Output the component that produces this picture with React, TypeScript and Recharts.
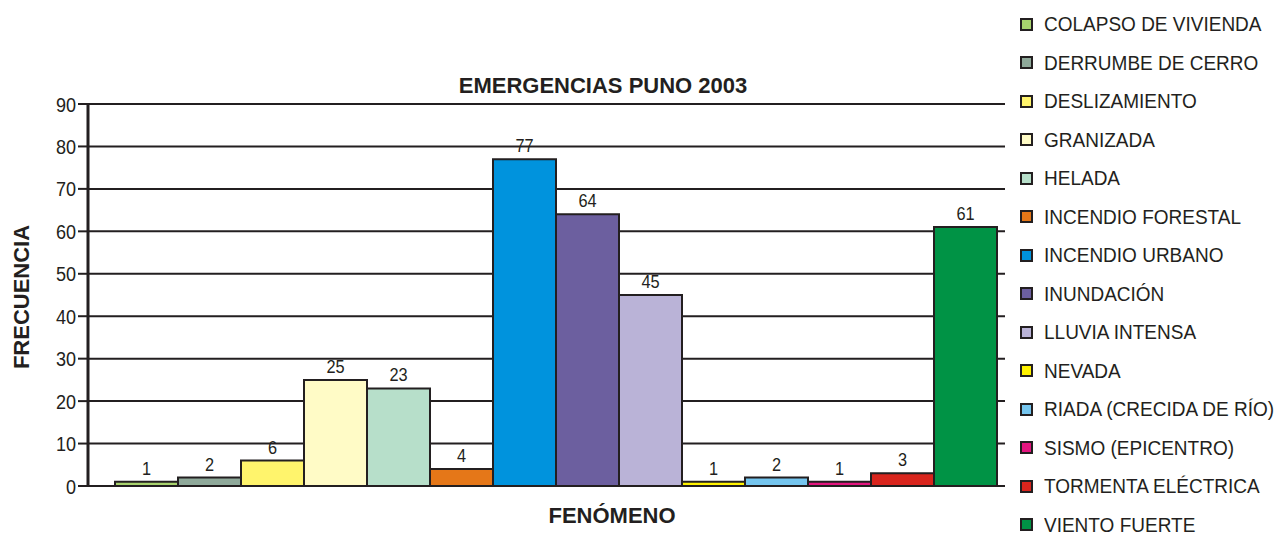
import React from "react";
import { BarChart, Bar, XAxis, YAxis, CartesianGrid, LabelList } from "recharts";

const fenomenos = [
  "COLAPSO DE VIVIENDA",
  "DERRUMBE DE CERRO",
  "DESLIZAMIENTO",
  "GRANIZADA",
  "HELADA",
  "INCENDIO FORESTAL",
  "INCENDIO URBANO",
  "INUNDACIÓN",
  "LLUVIA INTENSA",
  "NEVADA",
  "RIADA (CRECIDA DE RÍO)",
  "SISMO (EPICENTRO)",
  "TORMENTA ELÉCTRICA",
  "VIENTO FUERTE",
];
const frecuencias = [1, 2, 6, 25, 23, 4, 77, 64, 45, 1, 2, 1, 3, 61];
const colores = [
  "#a8d36e", "#8fa99a", "#fff46c", "#fffbc6", "#b7dfca", "#e57718", "#0093dd",
  "#6c5f9f", "#bab3d7", "#fff200", "#75c5ee", "#e3157f", "#d9251d", "#009345",
];
const yTicks = [0, 10, 20, 30, 40, 50, 60, 70, 80, 90];

const FONT = '"Liberation Sans", Arial, sans-serif';
const INK = "#231f20";

// one category, one series per phenomenon
const row: Record<string, number | string> = { name: "" };
fenomenos.forEach((f, i) => {
  row["s" + i] = frecuencias[i];
});
const chartData = [row];

// condensed-looking tick text
const YTick = (props: any) => {
  const { x, y, payload } = props;
  return (
    <text transform={`translate(${x},${y}) scale(0.86,1)`} textAnchor="end" dy="0.36em" fill={INK} fontSize={21} fontFamily={FONT}>
      {payload.value}
    </text>
  );
};

const BarLabel = (props: any) => {
  const { x, y, width, value } = props;
  const cx = x + width / 2;
  return (
    <text transform={`translate(${cx},${y - 7}) scale(0.86,1)`} textAnchor="middle" fill={INK} fontSize={19} fontFamily={FONT}>
      {value}
    </text>
  );
};

export default function App() {
  return (
    <div style={{ position: "absolute", left: 0, top: 0, width: 1282, height: 538, background: "#fff", fontFamily: FONT }}>
      <BarChart
        width={1282}
        height={538}
        data={chartData}
        margin={{ top: 104, right: 277, left: 28, bottom: 52 }}
        barCategoryGap={10}
        barGap={0}
      >
        <CartesianGrid vertical={false} stroke={INK} strokeWidth={2} />
        <XAxis dataKey="name" height={0} tick={false} tickLine={false} padding={{ left: 17, right: 0 }} axisLine={{ stroke: INK, strokeWidth: 2 }} />
        <YAxis
          width={60}
          domain={[0, 90]}
          ticks={yTicks}
          interval={0}
          tickSize={10}
          axisLine={{ stroke: INK, strokeWidth: 3 }}
          tickLine={{ stroke: INK, strokeWidth: 2 }}
          tick={<YTick />}
        />
        <YAxis yAxisId="r" orientation="right" width={0} domain={[0, 90]} tick={false} tickLine={false} axisLine={{ stroke: INK, strokeWidth: 2 }} />
        {fenomenos.map((f, i) => (
          <Bar key={f} dataKey={"s" + i} name={f} fill={colores[i]} stroke={INK} strokeWidth={2} isAnimationActive={false}>
            <LabelList dataKey={"s" + i} content={<BarLabel />} />
          </Bar>
        ))}
      </BarChart>

      <div style={{ position: "absolute", left: 0, width: 1206, top: 73, textAlign: "center", fontWeight: "bold", fontSize: 22, color: INK }}>
        EMERGENCIAS PUNO 2003
      </div>
      <div style={{ position: "absolute", left: 0, width: 1224, top: 503, textAlign: "center", fontWeight: "bold", fontSize: 22, color: INK }}>
        FENÓMENO
      </div>
      <div
        style={{
          position: "absolute",
          left: 22,
          top: 297,
          transform: "translate(-50%, -50%) rotate(-90deg)",
          fontWeight: "bold",
          fontSize: 22,
          color: INK,
          whiteSpace: "nowrap",
        }}
      >
        FRECUENCIA
      </div>

      {fenomenos.map((f, i) => (
        <div key={f} style={{ position: "absolute", left: 1020, top: 24 + i * 38.5 - 11, height: 22, display: "flex", alignItems: "center", whiteSpace: "nowrap", lineHeight: "22px" }}>
          <span style={{ width: 9, height: 9, background: colores[i], border: `2px solid ${INK}`, display: "inline-block", marginRight: 11 }} />
          <span style={{ fontSize: 20, color: INK, display: "inline-block", transform: "scaleX(0.95)", transformOrigin: "left center" }}>{f}</span>
        </div>
      ))}
    </div>
  );
}
